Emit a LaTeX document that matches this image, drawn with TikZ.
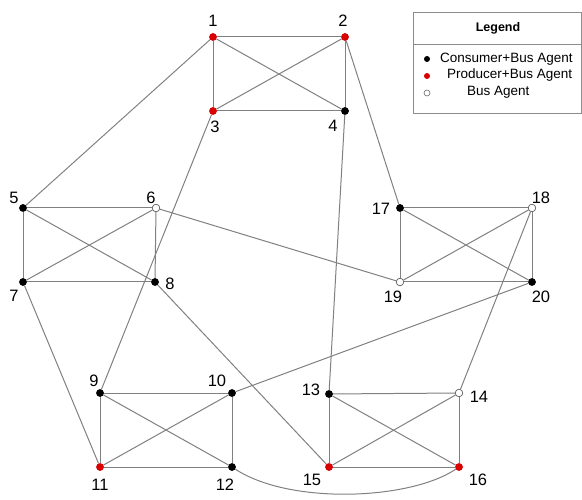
\documentclass[tikz,border=0pt]{standalone}
\usepackage{fontspec}
\setmainfont{Liberation Sans}
\begin{document}
\begin{tikzpicture}[x=1pt,y=-1pt,
  edge/.style={draw=black!50, line width=1pt},
  cons/.style={circle, fill=black, inner sep=0pt, minimum size=7.5pt},
  prod/.style={circle, fill=red!85!black, inner sep=0pt, minimum size=7.5pt},
  bus/.style={circle, draw=black!60, fill=white, line width=0.6pt, inner sep=0pt, minimum size=7.5pt},
  lbl/.style={font=\fontsize{16.5}{16.5}\selectfont, inner sep=0pt},
  legtxt/.style={font=\fontsize{13.5}{13.5}\selectfont, anchor=west, inner sep=0pt}]
\useasboundingbox (0,0) rectangle (582,500);
% nodes
\node[prod] (n1) at (213,37) {};
\node[prod] (n2) at (345,37) {};
\node[prod] (n3) at (213,111) {};
\node[cons] (n4) at (345,111) {};
\node[cons] (n5) at (23,208) {};
\node[bus]  (n6) at (156,208) {};
\node[cons] (n7) at (23,282) {};
\node[cons] (n8) at (155,282) {};
\node[cons] (n9) at (100,393) {};
\node[cons] (n10) at (232,393) {};
\node[prod] (n11) at (100,467) {};
\node[cons] (n12) at (232,467) {};
\node[cons] (n13) at (329,394) {};
\node[bus]  (n14) at (459,393) {};
\node[prod] (n15) at (329,467) {};
\node[prod] (n16) at (459,467) {};
\node[cons] (n17) at (400,208) {};
\node[bus]  (n18) at (532,208) {};
\node[bus]  (n19) at (400,282) {};
\node[cons] (n20) at (532,282) {};
% labels
\node[lbl] (l1) at (213,21) {1};
\node[lbl] (l2) at (343,21) {2};
\node[lbl] (l3) at (215,127) {3};
\node[lbl] (l4) at (333,126) {4};
\node[lbl] (l5) at (14,198) {5};
\node[lbl] (l6) at (151,198) {6};
\node[lbl] (l7) at (14,296) {7};
\node[lbl] (l8) at (170,284) {8};
\node[lbl] (l9) at (94,381) {9};
\node[lbl] (l10) at (217,381) {10};
\node[lbl] (l11) at (100,485) {11};
\node[lbl] (l12) at (225,485) {12};
\node[lbl] (l13) at (311,390) {13};
\node[lbl] (l14) at (479,397) {14};
\node[lbl] (l15) at (312,480) {15};
\node[lbl] (l16) at (478,480) {16};
\node[lbl] (l17) at (381,209) {17};
\node[lbl] (l18) at (541,198) {18};
\node[lbl] (l19) at (393,297) {19};
\node[lbl] (l20) at (541,297) {20};
% edges
\foreach \a/\b/\c/\d in {1/2/3/4,5/6/7/8,9/10/11/12,13/14/15/16,17/18/19/20}{
  \draw[edge] (n\a) -- (n\b);
  \draw[edge] (n\c) -- (n\d);
  \draw[edge] (n\a) -- (n\c);
  \draw[edge] (n\b) -- (n\d);
  \draw[edge] (n\a) -- (n\d);
  \draw[edge] (n\b) -- (n\c);
}
\foreach \a/\b in {1/5,3/9,2/17,4/13,6/19,7/11,8/15,10/20,14/18}{
  \draw[edge] (n\a) -- (n\b);
}
\draw[edge] (n12) .. controls (290,505) and (410,500) .. (n16);
% redraw nodes on top
\foreach \n in {1,2,3,11,15,16}{\node[prod] at (n\n) {};}
\foreach \n in {4,5,7,8,9,10,12,13,17,20}{\node[cons] at (n\n) {};}
\foreach \n in {6,14,18,19}{\node[bus] at (n\n) {};}
% legend
\node[draw=black!45, line width=0.8pt, minimum width=168pt, minimum height=101pt, anchor=north west, inner sep=0pt] (leg) at (413,12) {};
\coordinate (hl) at (413,44);
\coordinate (hr) at (581,44);
\draw[draw=black!45, line width=0.8pt] (hl) -- (hr);
\node[font=\bfseries\fontsize{12.5}{12.5}\selectfont] (legt) at (498,28) {Legend};
\node[cons, minimum size=6pt] (lc) at (427,59) {};
\node[prod, minimum size=6pt] (lp) at (427,76) {};
\node[bus, minimum size=6pt] (lb) at (427,93) {};
\node[legtxt] (tc) at (440,59) {Consumer+Bus Agent};
\node[legtxt] (tp) at (447,75) {Producer+Bus Agent};
\node[legtxt] (tb) at (467,92) {Bus Agent};
\end{tikzpicture}
\end{document}
